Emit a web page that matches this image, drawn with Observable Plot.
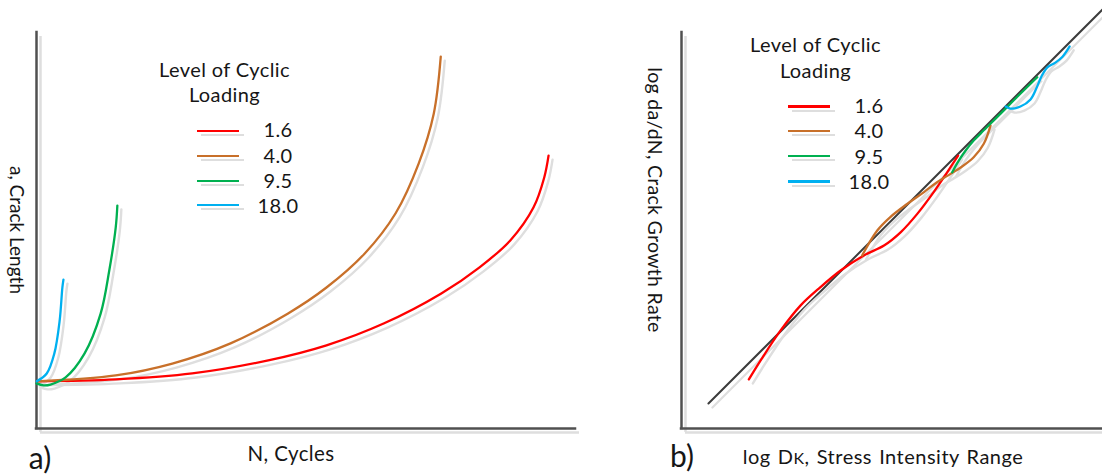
<!DOCTYPE html>
<html>
<head>
<meta charset="utf-8">
<script src="https://cdn.jsdelivr.net/npm/d3@7"></script>
<script src="https://cdn.jsdelivr.net/npm/@observablehq/plot@0.6"></script>
<style>
  html, body { margin: 0; padding: 0; background: #ffffff; }
  #root { position: relative; width: 1102px; height: 475px; overflow: hidden; background: #fff; }
  .panel { position: absolute; top: 0; }
  .lbl { position: absolute; white-space: nowrap; transform: translate(-50%, -50%);
         font-family: Lato, "Noto Sans", sans-serif; font-size: 20px; letter-spacing: 0.4px;
         line-height: 1; color: #161616; }
  .rot { transform: translate(-50%, -50%) rotate(90deg); }
  .tag { font-size: 30px; letter-spacing: 0; }
  .sw { position: absolute; height: 2.4px; }
</style>
</head>
<body>
<div id="root"></div>
<script>
// ---------- data ----------
const levels = ["1.6", "4.0", "9.5", "18.0"];
const levelColors = ["#ff0000", "#c8702a", "#00b050", "#00b0f0"];

// Panel a: crack length a vs cycles N (arbitrary units 0-100)
const aN_16 = [0, 14.7, 28.9, 43.0, 53.8, 64.4, 75.1, 82.2, 87.9, 92.2, 94.2, 95.0];
const aA_16 = [11.9, 12.4, 13.9, 17.2, 21.0, 26.5, 34.1, 40.7, 47.5, 55.8, 63.4, 68.9];
const aN_40 = [0, 14.7, 25.2, 36.0, 46.6, 53.8, 60.9, 66.6, 70.9, 73.7, 75.0];
const aA_40 = [11.9, 13.4, 16.4, 21.5, 29.0, 35.6, 44.2, 54.3, 66.9, 79.5, 93.9];
const aN_95 = [0, 1.3, 2.6, 5.4, 8.9, 11.9, 13.5, 14.7, 15.0];
const aA_95 = [11.4, 10.9, 11.1, 12.9, 18.9, 29.0, 39.9, 50.8, 56.3];
const aN_180 = [0, 1.9, 3.3, 4.3, 4.8, 5.0];
const aA_180 = [11.9, 13.9, 18.9, 27.3, 35.6, 37.6];

// Panel b: log da/dN vs log dK (arbitrary units 0-100)
const bK_16 = [16.0, 18.8, 23.5, 28.3, 33.0, 37.8, 43.3, 48.1, 52.1, 56.0, 59.9, 63.1, 65.7];
const bR_16 = [12.4, 17.2, 24.7, 31.1, 35.7, 39.9, 43.7, 46.2, 49.6, 54.2, 59.7, 64.7, 68.9];
const bK_40 = [42.9, 46.5, 49.6, 53.6, 57.6, 60.7, 63.9, 66.3, 69.4, 71.8, 73.4];
const bR_40 = [43.7, 50.0, 53.4, 56.7, 59.7, 62.2, 64.3, 65.9, 68.5, 71.9, 76.5];
const bK_95 = [64.3, 65.9, 67.5, 69.4, 71.8, 75.8, 79.7, 84.5];
const bR_95 = [64.7, 67.7, 70.2, 72.7, 75.3, 79.5, 83.7, 88.7];
const bK_180 = [77.0, 78.1, 80.5, 82.9, 84.3, 85.5, 86.9, 88.8, 90.5, 92.2];
const bR_180 = [81.3, 80.8, 81.3, 83.1, 85.9, 88.9, 91.2, 92.4, 93.9, 96.5];
const refK = [6.4, 100];
const refR = [6.3, 105.8];

// ---------- helpers ----------
const zip = (xs, ys, level) => xs.map((x, i) => ({x, y: ys[i], level}));
const seriesA = [zip(aN_16, aA_16, "1.6"), zip(aN_40, aA_40, "4.0"), zip(aN_95, aA_95, "9.5"), zip(aN_180, aA_180, "18.0")];
const seriesB = [zip(bK_16, bR_16, "1.6"), zip(bK_40, bR_40, "4.0"), zip(bK_95, bR_95, "9.5"), zip(bK_180, bR_180, "18.0")];
const refLine = zip(refK, refR, "ref");

const AXIS = "#505050", SHADOW = "#dedede";
const color = {domain: levels, range: levelColors};

function curves(series) {
  const marks = [];
  series.forEach(s => marks.push(Plot.line(s, {x: "x", y: "y", curve: "catmull-rom", stroke: SHADOW, strokeWidth: 2.4, dx: 4, dy: 4})));
  series.forEach(s => marks.push(Plot.line(s, {x: "x", y: "y", curve: "catmull-rom", stroke: "level", strokeWidth: 2.3})));
  return marks;
}
function axes() {
  return [
    Plot.ruleY([0], {stroke: SHADOW, strokeWidth: 2.5, dx: 4, dy: 4}),
    Plot.ruleX([0], {stroke: SHADOW, strokeWidth: 2.5, dx: 4, dy: 4}),
    Plot.ruleY([0], {stroke: AXIS, strokeWidth: 2.5, strokeLinecap: "square"}),
    Plot.ruleX([0], {stroke: AXIS, strokeWidth: 2.5, strokeLinecap: "square"})
  ];
}

const root = document.getElementById("root");

const plotA = Plot.plot({
  width: 600, height: 475,
  marginLeft: 36, marginRight: 25, marginTop: 32, marginBottom: 47,
  x: {domain: [0, 100], axis: null},
  y: {domain: [0, 100], axis: null},
  color,
  marks: [...axes(), ...curves(seriesA)]
});
plotA.classList.add("panel");
plotA.style.left = "0px";
root.appendChild(plotA);

const plotB = Plot.plot({
  width: 502, height: 475,
  marginLeft: 81, marginRight: 0, marginTop: 32, marginBottom: 47,
  x: {domain: [0, 100], axis: null},
  y: {domain: [0, 100], axis: null},
  color,
  marks: [
    ...axes(),
    Plot.line(refLine, {x: "x", y: "y", stroke: SHADOW, strokeWidth: 2.2, dx: 4, dy: 4}),
    Plot.line(refLine, {x: "x", y: "y", stroke: "#3c3c3c", strokeWidth: 2}),
    ...curves(seriesB)
  ]
});
plotB.classList.add("panel");
plotB.style.left = "600px";
root.appendChild(plotB);

// ---------- text ----------
function label(html, cx, cy, cls = "", style = "") {
  const d = document.createElement("div");
  d.className = "lbl " + cls;
  d.innerHTML = html;
  d.style.cssText = style;
  d.style.left = cx + "px";
  d.style.top = cy + "px";
  root.appendChild(d);
  return d;
}
label("a, Crack Length", 17, 230, "rot", "font-size:19px;letter-spacing:0");
label("N, Cycles", 291, 453, "", "font-size:20.5px");
label("a)", 40, 457, "tag");
label("log da/dN, Crack Growth Rate", 655, 200, "rot", "font-size:19.5px;letter-spacing:0.3px");
label("log D<span style=\"font-size:16px\">K</span>, Stress Intensity Range", 883, 456, "", "word-spacing:1.5px;letter-spacing:0.5px");
label("b)", 682, 455, "tag");

function legend(titleX, titleY1, titleY2, rowsY, textRowsY, swX1, swX2, numX) {
  label("Level of Cyclic", titleX, titleY1);
  label("Loading", titleX, titleY2);
  levels.forEach((lv, i) => {
    const sh = document.createElement("div");
    sh.className = "sw";
    sh.style.left = (swX1 + 4) + "px";
    sh.style.top = (rowsY[i] + 3) + "px";
    sh.style.width = (swX2 - swX1 + 1) + "px";
    sh.style.background = SHADOW;
    root.appendChild(sh);
    const s = document.createElement("div");
    s.className = "sw";
    s.style.left = swX1 + "px";
    s.style.top = (rowsY[i] - 1.2) + "px";
    s.style.width = (swX2 - swX1) + "px";
    s.style.background = levelColors[i];
    root.appendChild(s);
    label(lv, numX, textRowsY[i]);
  });
}
legend(224.5, 69, 93.5, [131, 156, 181, 205], [129, 154.5, 179.5, 204.5], 197, 239, 278);
legend(815.5, 43.5, 70, [106.5, 131, 156, 181.5], [104.5, 130, 155.5, 181], 788, 830, 869);
</script>
</body>
</html>
